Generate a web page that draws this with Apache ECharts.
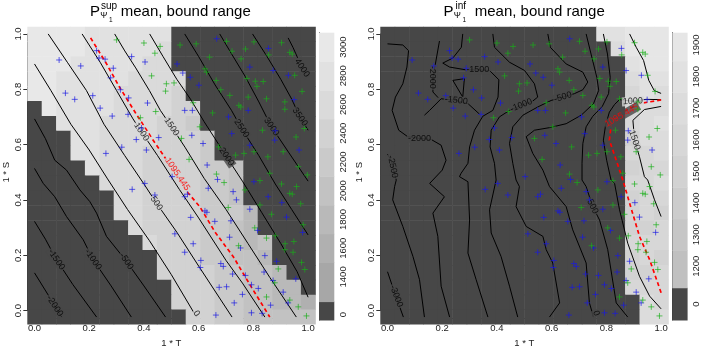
<!DOCTYPE html>
<html><head><meta charset="utf-8">
<script src="https://cdn.jsdelivr.net/npm/echarts@6/dist/echarts.min.js"></script>
<style>html,body{margin:0;padding:0;background:#fff}#c{width:706px;height:353px}</style>
</head><body><div id="c"></div>
<script>
// ---------------- DATA ----------------
const xTicks = [0, 0.2, 0.4, 0.6, 0.8, 1.0];
// heat cell values, rows listed from S=1 (top) to S=0 (bottom), columns T=0..1 ; 0 = lowest (dark) class
const supRows = [
 [3000,3000,3000,3000,2800,2800,2800,2800,2800,2800,0,0,0,0,0,0,0,0,0,0],
 [3000,3000,3000,3000,2800,2800,2800,2800,2800,2600,0,0,0,0,0,0,0,0,0,0],
 [3000,3000,3000,2800,2800,2800,2800,2800,2600,2600,0,0,0,0,0,0,0,0,0,0],
 [3000,3000,2800,2800,2800,2800,2800,2600,2600,2600,2600,0,0,0,0,0,0,0,0,0],
 [3000,3000,2800,2800,2800,2800,2600,2600,2600,2600,2400,0,0,0,0,0,0,0,0,0],
 [0,3000,2800,2800,2800,2800,2600,2600,2600,2600,2400,2400,0,0,0,0,0,0,0,0],
 [0,0,2800,2800,2800,2600,2600,2600,2600,2400,2400,2200,0,0,0,0,0,0,0,0],
 [0,0,0,2800,2800,2600,2600,2600,2600,2400,2400,2400,2200,0,0,0,0,0,0,0],
 [0,0,0,2800,2800,2600,2600,2600,2400,2400,2400,2400,2200,0,0,0,0,0,0,0],
 [0,0,0,0,2800,2600,2600,2600,2400,2400,2400,2400,2200,2200,2000,0,0,0,0,0],
 [0,0,0,0,0,2600,2600,2600,2400,2400,2400,2400,2200,2200,2000,0,0,0,0,0],
 [0,0,0,0,0,0,2600,2600,2400,2400,2400,2400,2200,2200,2000,0,0,0,0,0],
 [0,0,0,0,0,0,2600,2600,2400,2400,2400,2400,2200,2200,2200,1800,0,0,0,0],
 [0,0,0,0,0,0,0,2600,2400,2400,2400,2400,2200,2200,2000,1800,0,0,0,0],
 [0,0,0,0,0,0,0,0,2600,2400,2400,2400,2200,2200,2000,1800,2000,0,0,0],
 [0,0,0,0,0,0,0,0,0,2400,2400,2400,2200,2200,2000,2000,1800,0,0,0],
 [0,0,0,0,0,0,0,0,0,2400,2400,2400,2400,2200,2200,2000,2000,1800,0,0],
 [0,0,0,0,0,0,0,0,0,0,2400,2400,2400,2200,2200,2000,2000,1800,1800,0],
 [0,0,0,0,0,0,0,0,0,0,2400,2400,2400,2200,2200,2000,2000,1800,1800,1600],
 [0,0,0,0,0,0,0,0,0,0,0,2400,2400,2200,2200,2000,2000,2000,2000,2000]
];
const infRows = [
 [0,0,0,0,0,0,0,0,0,0,0,0,0,0,0,1800,1800,1900,1900,1900],
 [0,0,0,0,0,0,0,0,0,0,0,0,0,0,0,0,1700,1900,1900,1900],
 [0,0,0,0,0,0,0,0,0,0,0,0,0,0,0,0,0,1800,1900,1900],
 [0,0,0,0,0,0,0,0,0,0,0,0,0,0,0,0,0,1700,1800,1800],
 [0,0,0,0,0,0,0,0,0,0,0,0,0,0,0,0,0,1600,1800,1700],
 [0,0,0,0,0,0,0,0,0,0,0,0,0,0,0,0,0,1600,1700,1700],
 [0,0,0,0,0,0,0,0,0,0,0,0,0,0,0,0,0,1600,1700,1800],
 [0,0,0,0,0,0,0,0,0,0,0,0,0,0,0,0,0,1500,1700,1700],
 [0,0,0,0,0,0,0,0,0,0,0,0,0,0,0,0,0,1600,1600,1700],
 [0,0,0,0,0,0,0,0,0,0,0,0,0,0,0,0,0,1500,1600,1600],
 [0,0,0,0,0,0,0,0,0,0,0,0,0,0,0,0,0,1600,1600,1700],
 [0,0,0,0,0,0,0,0,0,0,0,0,0,0,0,0,0,1500,1600,1600],
 [0,0,0,0,0,0,0,0,0,0,0,0,0,0,0,0,0,1500,1600,1500],
 [0,0,0,0,0,0,0,0,0,0,0,0,0,0,0,0,0,1500,1500,1600],
 [0,0,0,0,0,0,0,0,0,0,0,0,0,0,0,0,0,1600,1600,1600],
 [0,0,0,0,0,0,0,0,0,0,0,0,0,0,0,0,0,1500,1600,1500],
 [0,0,0,0,0,0,0,0,0,0,0,0,0,0,0,0,0,1500,1500,1600],
 [0,0,0,0,0,0,0,0,0,0,0,0,0,0,0,0,0,1600,1600,1600],
 [0,0,0,0,0,0,0,0,0,0,0,0,0,0,0,0,0,0,1700,1600],
 [0,0,0,0,0,0,0,0,0,0,0,0,0,0,0,0,0,0,1700,1700]
];
// colour key: band edges and labels
const supKeyLevels = [0,1400,1600,1800,2000,2200,2400,2600,2800,3000];
const supKeyEdges  = [1100,1228,1500,1700,1900,2100,2300,2500,2700,2900,3100];
const supKeyZeroAt = 1137;
const infKeyLevels = [0,1200,1300,1400,1500,1600,1700,1800,1900];
const infKeyEdges  = [1030,1132,1250,1350,1450,1550,1650,1750,1850,1939];
const infKeyZeroAt = 1080;

// sample points (T, S)
const bluePts = [
 [0.227,0.941],[0.090,0.908],[0.236,0.915],[0.258,0.911],[0.355,0.920],[0.404,0.901],[0.169,0.887],[0.288,0.879],[0.278,0.845],[0.113,0.791],
 [0.147,0.769],[0.213,0.782],[0.314,0.803],[0.344,0.774],[0.240,0.738],[0.284,0.710],[0.342,0.716],[0.413,0.756],[0.391,0.668],[0.372,0.627],
 [0.454,0.634],[0.319,0.600],[0.261,0.578],[0.409,0.590],[0.521,0.894],[0.542,0.862],[0.569,0.847],[0.601,0.819],[0.549,0.730],[0.577,0.730],
 [0.575,0.642],[0.616,0.613],[0.631,0.537],[0.666,0.983],[0.709,0.707],[0.721,0.648],[0.787,0.883],[0.781,0.730],[0.787,0.607],[0.880,0.658],
 [0.855,0.949],[0.872,0.871],[0.928,0.854],[0.949,0.768],[0.967,0.590],[0.878,0.625],
 [0.357,0.451],[0.403,0.472],[0.440,0.431],[0.503,0.496],[0.549,0.425],[0.559,0.434],[0.635,0.455],[0.669,0.486],[0.726,0.443],[0.738,0.414],
 [0.802,0.478],[0.854,0.425],[0.787,0.381],[0.904,0.404],[0.921,0.353],[0.980,0.299],[0.571,0.352],[0.623,0.375],[0.630,0.370],[0.659,0.338],
 [0.718,0.340],[0.513,0.294],[0.580,0.259],[0.549,0.229],[0.713,0.282],[0.753,0.244],[0.842,0.217],[0.608,0.200],[0.606,0.175],[0.681,0.189],
 [0.690,0.179],[0.724,0.152],[0.771,0.147],[0.675,0.105],[0.702,0.107],[0.760,0.080],[0.793,0.114],[0.818,0.101],[0.839,0.159],[0.885,0.197],
 [0.872,0.129],[0.909,0.088],[0.955,0.135],[0.863,0.042],[0.832,0.013],[0.793,0.015],[0.730,0.050],[0.663,0.007],[0.927,0.050],[0.815,0.306]
];
const greenPts = [
 [0.300,0.979],[0.400,0.968],[0.459,0.956],[0.440,0.932],[0.428,0.852],[0.482,0.824],[0.510,0.827],[0.479,0.798],[0.443,0.726],[0.387,0.704],
 [0.537,0.631],[0.532,0.961],[0.591,0.965],[0.580,0.757],[0.604,0.672],[0.565,0.557],[0.640,0.918],[0.623,0.877],[0.629,0.865],[0.664,0.836],
 [0.681,0.803],[0.651,0.721],[0.673,0.601],[0.702,0.974],[0.722,0.939],[0.771,0.947],[0.802,0.972],[0.755,0.912],[0.776,0.843],[0.807,0.833],
 [0.813,0.815],[0.836,0.832],[0.714,0.783],[0.781,0.777],[0.747,0.748],[0.754,0.742],[0.848,0.771],[0.735,0.572],[0.766,0.578],[0.802,0.584],
 [0.833,0.660],[0.856,0.926],[0.903,0.969],[0.933,0.935],[0.942,0.929],[0.951,0.854],[0.978,0.797],[0.915,0.760],[0.915,0.734],[0.986,0.666],
 [0.956,0.636],[0.909,0.584],[0.853,0.566],[0.964,0.531],[0.997,0.502],
 [0.665,0.505],[0.693,0.475],[0.769,0.449],[0.824,0.482],[0.860,0.508],[0.824,0.396],[0.866,0.363],[0.903,0.470],[0.933,0.437],[0.942,0.434],
 [0.958,0.461],[0.973,0.400],[0.880,0.287],[0.848,0.279],[0.982,0.326],[0.708,0.387],[0.746,0.252],[0.948,0.267],[0.916,0.259],[0.915,0.238],
 [0.945,0.229],[0.891,0.170],[0.976,0.193],[0.988,0.168],[0.878,0.121],[0.848,0.071],[0.933,0.060],[0.964,0.036],[0.994,0.004],[0.805,0.315]
];

// contour lines of the mean (T, S)
const supContours = [
 [[0,0.156],[0.05,0.078],[0.099,0]],
 [[0,0.338],[0.04,0.275],[0.08,0.203],[0.14,0.115],[0.227,0]],
 [[0,0.525],[0.032,0.472],[0.074,0.425],[0.117,0.355],[0.178,0.273],[0.214,0.203],[0.28,0.11],[0.354,0]],
 [[0,0.70],[0.04,0.63],[0.074,0.554],[0.117,0.519],[0.166,0.449],[0.202,0.408],[0.227,0.367],[0.263,0.285],[0.336,0.197],[0.40,0.11],[0.479,0]],
 [[0,0.894],[0.06,0.80],[0.133,0.681],[0.2,0.59],[0.267,0.488],[0.34,0.38],[0.42,0.27],[0.5,0.15],[0.592,0]],
 [[0.05,1],[0.12,0.9],[0.19,0.8],[0.254,0.681],[0.33,0.57],[0.4,0.47],[0.446,0.402],[0.52,0.3],[0.6,0.18],[0.722,0]],
 [[0.174,1],[0.24,0.9],[0.3,0.8],[0.36,0.7],[0.391,0.654],[0.45,0.57],[0.53,0.45],[0.6,0.35],[0.7,0.2],[0.76,0.12],[0.842,0]],
 [[0.293,1],[0.33,0.94],[0.37,0.88],[0.42,0.8],[0.46,0.73],[0.501,0.672],[0.55,0.6],[0.62,0.49],[0.7,0.38],[0.78,0.26],[0.86,0.14],[0.957,0]],
 [[0.421,1],[0.47,0.92],[0.52,0.84],[0.57,0.77],[0.62,0.69],[0.66,0.63],[0.702,0.566],[0.76,0.48],[0.83,0.37],[0.9,0.26],[0.96,0.16],[1.0,0.07]],
 [[0.549,1],[0.6,0.92],[0.66,0.82],[0.72,0.73],[0.757,0.666],[0.82,0.57],[0.88,0.47],[0.94,0.38],[1.0,0.29]],
 [[0.677,1],[0.72,0.93],[0.77,0.85],[0.82,0.76],[0.866,0.672],[0.93,0.58],[1.0,0.48]],
 [[0.797,1],[0.85,0.92],[0.9,0.84],[0.94,0.77],[0.97,0.707],[1.0,0.66]],
 [[0.927,0.986],[0.945,0.952],[0.962,0.915]]
];
const supBoundLine = [[0.205,0.986],[0.26,0.9],[0.312,0.81],[0.37,0.72],[0.43,0.63],[0.5,0.53],[0.56,0.44],[0.604,0.39],[0.66,0.3],[0.726,0.214],[0.79,0.11],[0.86,0]];
const supLabels = [[0.074,0.039,'-2000'],[0.080,0.203,'-1500'],[0.214,0.203,'-1000'],[0.336,0.197,'-500'],[0.592,0.013,'0'],[0.446,0.402,'500'],
 [0.391,0.654,'1000'],[0.501,0.672,'1500'],[0.702,0.566,'2000'],[0.757,0.666,'2500'],[0.866,0.672,'3000'],[0.970,0.707,'3500'],[0.978,0.880,'4000']];
const supLabelRot = [-56,-56,-56,-56,-56,-56,-56,-56,-56,-56,-56,-56,-56];
const supBoundLabel = [0.522,0.505,'1095.445'];

const infContours = [
 [[0,0.16],[0.026,0.086],[0.058,0]],
 [[0,0.575],[0.013,0.554],[0.019,0.531],[0.032,0.484],[0.026,0.461],[0.019,0.414],[0.056,0.320],[0.093,0.214],[0.117,0.132],[0.135,0]],
 [[0,0.965],[0.056,0.961],[0.077,0.941],[0.071,0.883],[0.056,0.824],[0.029,0.777],[0.017,0.730],[0.041,0.660],[0.074,0.637],[0.117,0.631],[0.160,0.627],[0.196,0.607],[0.214,0.554],[0.200,0.519],[0.154,0.472],[0.208,0.425],[0.166,0.367],[0.184,0.285],[0.196,0.109],[0.227,0]],
 [[0.19,0.975],[0.175,0.894],[0.166,0.847],[0.166,0.795],[0.185,0.775]],
 [[0.275,1],[0.270,0.953],[0.239,0.915],[0.202,0.897],[0.227,0.883],[0.288,0.873],[0.330,0.873],[0.373,0.871],[0.407,0.838],[0.404,0.777],[0.385,0.730],[0.348,0.709],[0.318,0.660],[0.300,0.601],[0.294,0.543],[0.269,0.508],[0.263,0.496],[0.294,0.478],[0.300,0.343],[0.294,0.226],[0.324,0.132],[0.367,0]],
 [[0.135,0.713],[0.154,0.730],[0.196,0.771],[0.251,0.765],[0.294,0.754],[0.336,0.717]],
 [[0.239,0.836],[0.281,0.842],[0.275,0.777],[0.239,0.836]],
 [[0.385,1],[0.391,0.953],[0.446,0.900],[0.501,0.871],[0.537,0.824],[0.549,0.777],[0.531,0.763],[0.489,0.748],[0.446,0.730],[0.409,0.707],[0.379,0.660],[0.375,0.601],[0.391,0.543],[0.397,0.484],[0.373,0.379],[0.379,0.297],[0.415,0.214],[0.446,0.109],[0.476,0]],
 [[0.586,1],[0.595,0.953],[0.653,0.894],[0.714,0.865],[0.732,0.830],[0.714,0.803],[0.683,0.789],[0.641,0.777],[0.598,0.765],[0.549,0.742],[0.495,0.713],[0.458,0.672],[0.446,0.613],[0.458,0.543],[0.470,0.484],[0.482,0.461],[0.470,0.390],[0.507,0.320],[0.568,0.285],[0.580,0.238],[0.604,0.191],[0.629,0.050],[0.592,0]],
 [[0.726,1],[0.744,0.929],[0.765,0.847],[0.772,0.801],[0.753,0.754],[0.708,0.713],[0.653,0.683],[0.592,0.669],[0.537,0.660],[0.507,0.637],[0.531,0.578],[0.568,0.519],[0.592,0.461],[0.653,0.390],[0.677,0.308],[0.726,0.191],[0.738,0.050],[0.753,0]],
 [[0.789,1],[0.804,0.929],[0.814,0.847],[0.808,0.789],[0.785,0.744],[0.750,0.709],[0.726,0.672],[0.714,0.613],[0.711,0.543],[0.711,0.484],[0.726,0.461],[0.750,0.390],[0.775,0.343],[0.805,0.238],[0.836,0.050],[0.878,0]],
 [[1.0,0.768],[0.945,0.769],[0.897,0.762],[0.848,0.768],[0.830,0.751],[0.811,0.724],[0.797,0.677],[0.789,0.625],[0.801,0.554],[0.817,0.484],[0.830,0.472],[0.848,0.379],[0.878,0.261],[0.921,0.144],[0.958,0.074],[1.0,0.029]],
 [[1.0,0.744],[0.939,0.733],[0.897,0.695],[0.903,0.625],[0.921,0.566],[0.939,0.496],[0.951,0.484],[0.976,0.414],[1.0,0.355]],
 [[0.885,1],[0.909,0.953],[0.936,0.906],[0.955,0.836],[0.975,0.80],[1.0,0.79]]
];
const infBoundLine = [[1.0,0.767],[0.921,0.754],[0.848,0.718],[0.818,0.683],[0.811,0.625],[0.836,0.554],[0.86,0.484],[0.885,0.402],[0.921,0.285],[0.958,0.203],[1.0,0.086]];
const infLabels = [[0.032,0.074,'-3000'],[0.019,0.531,'-2500'],[0.117,0.631,'-2000'],[0.166,0.847,'-2000'],[0.330,0.873,'-1500'],[0.251,0.765,'-1500'],
 [0.489,0.748,'-1000'],[0.641,0.777,'-500'],[0.763,0.013,'0'],[0.750,0.390,'500'],[0.897,0.762,'1000'],[0.903,0.625,'1500']];
const infLabelRot = [-70,-78,0,-90,0,-6,22,16,-70,-63,3,-72];
const infBoundLabel = [0.856,0.712,'1095.445'];

// ---------------- STYLE ----------------
const FONT = '"Liberation Sans", Arial, Helvetica, sans-serif';
const DARK = '#474747';
const supShades = ['#a7a7a7','#b0b0b0','#b9b9b9','#c2c2c2','#cacaca','#d2d2d2','#dadada','#e1e1e1','#e8e8e8'];
const infShades = ['#c0c0c0','#c6c6c6','#cccccc','#d2d2d2','#d7d7d7','#dcdcdc','#e1e1e1','#e6e6e6'];
const N = 19;
const BLUE = 'rgba(25,25,225,0.85)', GREEN = 'rgba(25,175,25,0.85)';

function shadeOf(levels, shades, v){ const i = levels.indexOf(v); return i <= 0 ? DARK : shades[i-1]; }
function cellsOf(rows){ const out=[]; rows.forEach((row,r)=>row.forEach((v,c)=>out.push([c/N,(N-r)/N,v]))); return out; }
function cellShadeAt(rows, levels, shades, t, s){ const c=Math.min(N,Math.max(0,Math.round(t*N))); const r=N-Math.min(N,Math.max(0,Math.round(s*N))); return shadeOf(levels, shades, rows[r][c]); }

const P = [
 {rows:supRows, levels:supKeyLevels, shades:supShades, edges:supKeyEdges, zeroAt:supKeyZeroAt, contours:supContours, bound:supBoundLine, labels:supLabels, rots:supLabelRot, bLabel:supBoundLabel, bRot:-56, left:27.3, keyLeft:319},
 {rows:infRows, levels:infKeyLevels, shades:infShades, edges:infKeyEdges, zeroAt:infKeyZeroAt, contours:infContours, bound:infBoundLine, labels:infLabels, rots:infLabelRot, bLabel:infBoundLabel, bRot:30, left:380.3, keyLeft:672.3}
];
const W = 288, H = 298, TOP = 26.5;
const ux = W*N/(N+1), uy = H*N/(N+1);

const grid=[], xAxis=[], yAxis=[], series=[];
const axisCol = '#333';
P.forEach((p,k)=>{
  const g0 = grid.length;
  grid.push({left:p.left, top:TOP, width:W, height:H});
  grid.push({left:p.left+ux/(2*N), top:TOP+uy/(2*N), width:ux, height:uy});
  grid.push({left:p.keyLeft, top:32.7, width:15.3, height:287.3});
  xAxis.push({gridIndex:g0, type:'value', min:-1/(2*N), max:1+1/(2*N), show:false});
  yAxis.push({gridIndex:g0, type:'value', min:-1/(2*N), max:1+1/(2*N), show:false});
  xAxis.push({gridIndex:g0+1, type:'value', min:0, max:1, interval:0.2, position:'bottom', offset:uy/(2*N),
    axisLine:{show:true,onZero:false,lineStyle:{color:axisCol,width:1}}, axisTick:{show:true,length:4,lineStyle:{color:axisCol}},
    axisLabel:{fontFamily:FONT,fontSize:9.5,color:'#222',margin:5,formatter:v=>v.toFixed(1)}, splitLine:{show:false},
    name:'1 * T', nameLocation:'middle', nameGap:18, nameTextStyle:{fontFamily:FONT,fontSize:9.5,color:'#222'}});
  yAxis.push({gridIndex:g0+1, type:'value', min:0, max:1, interval:0.2, position:'left', offset:ux/(2*N),
    axisLine:{show:true,onZero:false,lineStyle:{color:axisCol,width:1}}, axisTick:{show:true,length:4,lineStyle:{color:axisCol}},
    axisLabel:{fontFamily:FONT,fontSize:9.5,color:'#222',margin:4,rotate:90,formatter:v=>v.toFixed(1)}, splitLine:{show:false},
    name:'1 * S', nameLocation:'middle', nameGap:16, nameTextStyle:{fontFamily:FONT,fontSize:9.5,color:'#222'}});
  const keyVals = [p.zeroAt].concat(p.levels.slice(1));
  xAxis.push({gridIndex:g0+2, type:'value', min:0, max:1, show:false});
  yAxis.push({gridIndex:g0+2, type:'value', min:p.edges[0], max:p.edges[p.edges.length-1], position:'right',
    axisLine:{show:true,lineStyle:{color:axisCol,width:1}}, axisTick:{show:true,length:3,customValues:keyVals,lineStyle:{color:axisCol}},
    axisLabel:{show:true,customValues:keyVals,rotate:90,margin:4,fontFamily:FONT,fontSize:9.5,color:'#222',formatter:v=>(v===p.zeroAt?'0':String(v))},
    splitLine:{show:false}});
  const ax = g0;
  // heat cells
  series.push({type:'custom', xAxisIndex:ax, yAxisIndex:ax, clip:true, silent:true, z:1, data:cellsOf(p.rows),
    renderItem:(params,api)=>{ const c=api.coord([api.value(0),api.value(1)]); const s=api.size([1/N,1/N]);
      return {type:'rect', shape:{x:c[0]-s[0]/2, y:c[1]-s[1]/2, width:s[0]+0.5, height:s[1]+0.5}, style:{fill:shadeOf(p.levels,p.shades,api.value(2))}}; }});
  // contours
  p.contours.forEach(pts=>series.push({type:'line', xAxisIndex:ax, yAxisIndex:ax, data:pts, symbol:'none', silent:true, clip:true, z:3,
    lineStyle:{color:'#000', width:1}}));
  series.push({type:'line', xAxisIndex:ax, yAxisIndex:ax, data:p.bound, symbol:'none', silent:true, clip:true, z:4,
    lineStyle:{color:'#ff0000', width:1.7, type:[4,3]}});
  // contour labels
  series.push({type:'scatter', xAxisIndex:ax, yAxisIndex:ax, silent:true, z:5, symbolSize:1, itemStyle:{color:'rgba(0,0,0,0)'},
    data:p.labels.map((l,i)=>({value:[l[0],l[1]], name:l[2], label:{rotate:p.rots[i], backgroundColor:cellShadeAt(p.rows,p.levels,p.shades,l[0],l[1])}})),
    label:{show:true, position:'inside', formatter:q=>q.name, fontFamily:FONT, fontSize:9, color:'#000', padding:[0,1]}});
  series.push({type:'scatter', xAxisIndex:ax, yAxisIndex:ax, silent:true, z:5, symbolSize:1, itemStyle:{color:'rgba(0,0,0,0)'},
    data:[{value:[p.bLabel[0],p.bLabel[1]], name:p.bLabel[2], label:{rotate:p.bRot, backgroundColor:cellShadeAt(p.rows,p.levels,p.shades,p.bLabel[0],p.bLabel[1])}}],
    label:{show:true, position:'inside', formatter:q=>q.name, fontFamily:FONT, fontSize:9, color:'#ff0000', padding:[0,1]}});
  // points
  [[bluePts,BLUE],[greenPts,GREEN]].forEach(([pts,col])=>series.push({type:'scatter', xAxisIndex:ax, yAxisIndex:ax, silent:true, z:6, data:pts,
    symbol:'path://M0,5L10,5M5,0L5,10', symbolSize:6, itemStyle:{color:'rgba(0,0,0,0)', borderColor:col, borderWidth:1}}));
  // colour key
  const bands = p.edges.slice(0,-1).map((e,i)=>[e, p.edges[i+1], i]);
  series.push({type:'custom', xAxisIndex:g0+2, yAxisIndex:g0+2, silent:true, z:1, data:bands,
    renderItem:(params,api)=>{ const a=api.coord([0,api.value(1)]); const b=api.coord([1,api.value(0)]); const i=api.value(2);
      return {type:'rect', shape:{x:a[0], y:a[1], width:b[0]-a[0], height:b[1]-a[1]+0.5}, style:{fill: i===0?DARK:p.shades[i-1]}}; }});
});

function txt(x,y,t,size){ return {type:'text', x:x, y:y, silent:true, style:{text:t, font:size+'px '+FONT, fill:'#000', verticalAlign:'middle', textVerticalAlign:'middle'}}; }
const graphic = [
  txt(90,11.5,'P',15), txt(101,5.8,'sup',10), txt(100.3,15.3,'\u03A8',8.5), txt(109,20.2,'1',6.5), txt(120.7,11.5,'mean, bound range',15),
  txt(443.5,11.5,'P',15), txt(455.5,5.8,'inf',10), txt(453.8,15.3,'\u03A8',8.5), txt(462.5,20.2,'1',6.5), txt(474.7,11.5,'mean, bound range',15)
];

const chart = echarts.init(document.getElementById('c'), null, {renderer:'canvas'});
chart.setOption({animation:false, backgroundColor:'#fff', grid, xAxis, yAxis, series, graphic});
</script></body></html>
